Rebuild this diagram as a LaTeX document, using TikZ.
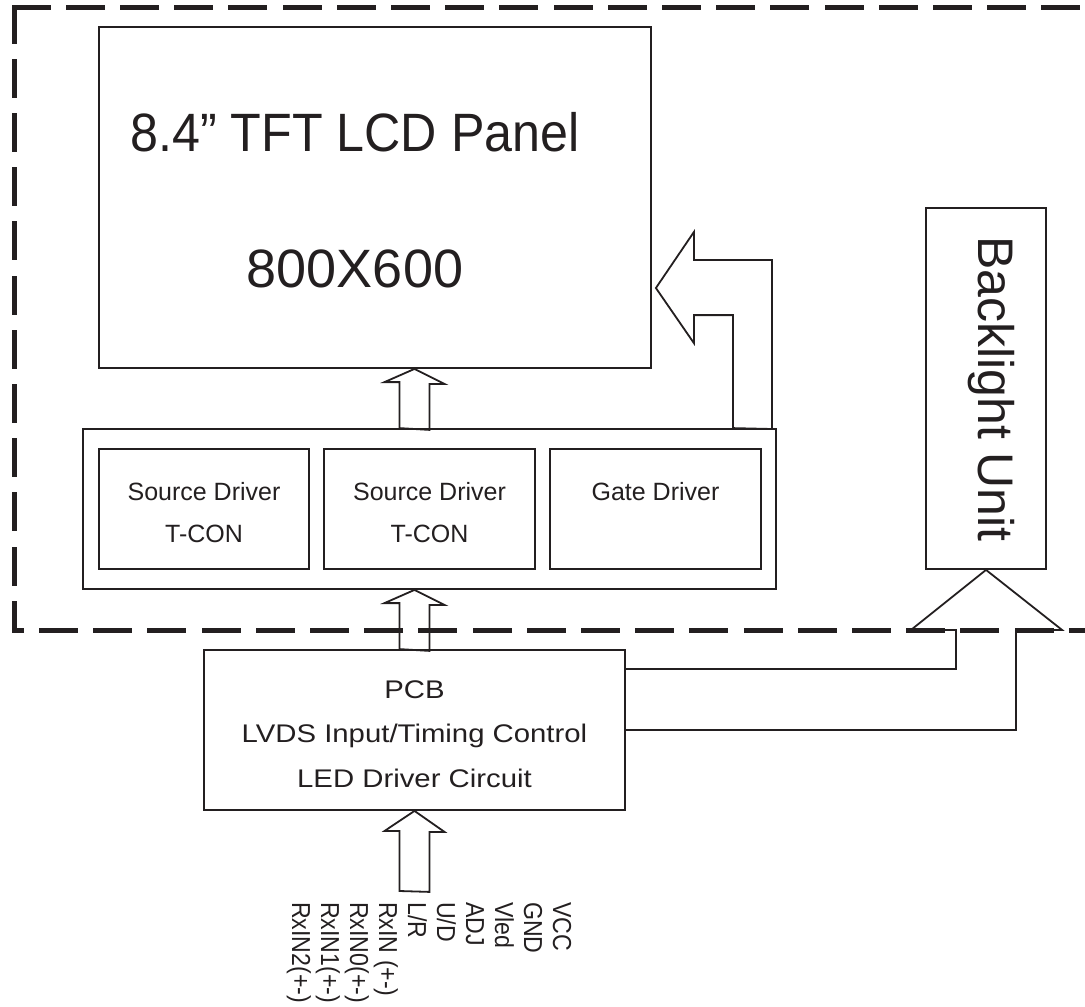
\documentclass[tikz,border=0pt]{standalone}
\usepackage{fontspec}
\setmainfont{Liberation Sans}
\newfontfamily\narrowsans[FakeStretch=0.93]{Liberation Sans}
\newfontfamily\widesans[FakeStretch=1.15]{Liberation Sans}
\newfontfamily\sigsans[FakeStretch=0.89]{Liberation Sans}
\usepackage{xcolor}
\usetikzlibrary{calc}
\definecolor{ink}{RGB}{35,31,32}

\begin{document}
\begin{tikzpicture}[x=1pt, y=-1pt, line join=miter,
  blk/.style={draw=ink, line width=1.8pt, inner sep=0pt},
  hol/.style={draw=ink, line width=1.8pt},
  fence/.style={draw=ink, line width=5pt, dash pattern=on 34pt off 20.2pt, line cap=rect},
  txt/.style={text=ink, inner sep=0pt, anchor=base},
  drvtxt/.style={txt, font=\fontsize{25}{30}\selectfont},
  pcbtxt/.style={txt, font=\widesans\fontsize{25.5}{30}\selectfont},
  sig/.style={text=ink, inner sep=0pt, anchor=base west, rotate=-90,
              font=\sigsans\fontsize{26}{30}\selectfont}
]
\useasboundingbox (0,0) rectangle (1085,1007);

% module outline
\draw[fence] (14,7) -- (1085,7);
\draw[fence] (14,7) -- (14,630) -- (1085,630);

% panel
\node[blk, minimum width=552pt, minimum height=341pt] (panel) at (375,197.5) {};
\node[txt, font=\narrowsans\fontsize{54}{64}\selectfont] (ptitle) at (355,151) {8.4” TFT LCD Panel};
\node[txt, font=\fontsize{54}{64}\selectfont] (pres) at (355,287) {800X600};

% driver board
\node[blk, minimum width=693pt, minimum height=160pt] (drv) at (429.5,509) {};
\node[blk, minimum width=210pt, minimum height=120pt] (sd1) at (204,509) {};
\node[blk, minimum width=211pt, minimum height=120pt] (sd2) at (429.5,509) {};
\node[blk, minimum width=211pt, minimum height=120pt] (gd) at (655.5,509) {};
\node[drvtxt] (sd1a) at (204,500) {Source Driver};
\node[drvtxt] (sd1b) at (204,542) {T-CON};
\node[drvtxt] (sd2a) at (429.5,500) {Source Driver};
\node[drvtxt] (sd2b) at (429.5,542) {T-CON};
\node[drvtxt] (gda) at (655.5,500) {Gate Driver};

% backlight
\node[blk, minimum width=120pt, minimum height=361pt] (blu) at (986,388.5) {};
\node[txt, rotate=-90, font=\fontsize{50}{60}\selectfont] (blut) at (978,389) {Backlight Unit};

% pcb
\node[blk, minimum width=421pt, minimum height=160pt] (pcb) at (414.5,730) {};
\node[pcbtxt] (pcba) at (414.5,698.5) {PCB};
\node[pcbtxt] (pcbb) at (414.5,742.5) {LVDS Input/Timing Control};
\node[pcbtxt] (pcbc) at (414.5,787.5) {LED Driver Circuit};

\coordinate (ax) at (pcb.north);
\coordinate (pins) at (414.5,891);

% hollow arrows
\draw[hol] (ax |- drv.north) ++(-15,0) -- ++(0,-46) -- ++(-15,0) -- (ax |- panel.south)
  -- ++(30,15) -- ++(-15,0) -- ++(0,46) -- cycle;
\draw[hol] (pcb.north) ++(-15,0) -- ++(0,-46) -- ++(-15,0) -- (ax |- drv.south)
  -- ++(30,15) -- ++(-15,0) -- ++(0,46) -- cycle;
\draw[hol] (pins) ++(-15,0) -- ++(0,-60) -- ++(-15,0) -- (pcb.south)
  -- ++(30,21) -- ++(-15,0) -- ++(0,60) -- cycle;
\draw[hol] ($(drv.north east)+(-44,0)$) -- ++(0,-113) -- ++(-39,0) -- ++(0,28)
  -- ($(panel.east)+(4,90.5)$) -- ++(38,-56) -- ++(0,28) -- ++(78,0) -- ++(0,169) -- cycle;
\draw[hol] ($(pcb.east)+(0,-61)$) -| ($(blu.south)+(-30,60)$) -- ++(-45,0) -- (blu.south)
  -- ++(76,60) -- ++(-46,0) |- (pcb.east);

% input signals
\foreach \s [count=\i from 0] in {{RxIN2(+-)}, {RxIN1(+-)}, {RxIN0(+-)}, {RxIN (+-)},
    {L/R}, {U/D}, {ADJ}, {Vled}, {GND}, {VCC}}
  \node[sig] (sig\i) at (292+29*\i,902) {\s};
\end{tikzpicture}
\end{document}
